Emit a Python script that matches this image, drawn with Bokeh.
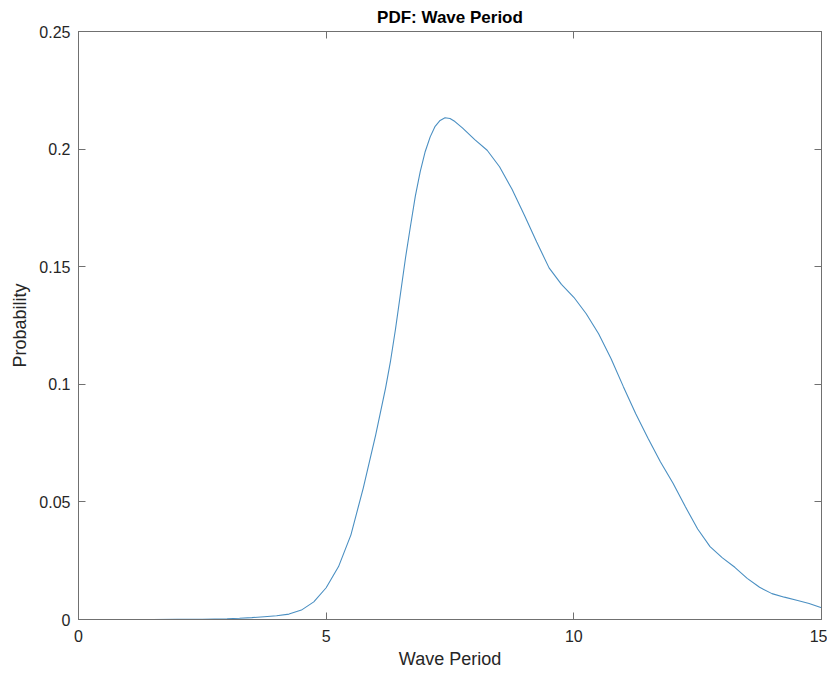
from bokeh.plotting import figure
from bokeh.models import LinearAxis, FixedTicker, Range1d, CustomJSTickFormatter
from bokeh.embed import file_html
from bokeh.resources import INLINE

# Wave period (s) and estimated probability density
period = [0.0, 0.5, 1.0, 1.5, 2.0, 2.5, 3.0, 3.25, 3.5, 3.75, 4.0, 4.25, 4.5, 4.75,
          5.0, 5.25, 5.5, 5.75, 6.0, 6.1, 6.2, 6.3, 6.4, 6.5, 6.6, 6.7, 6.8, 6.9,
          7.0, 7.1, 7.2, 7.3, 7.4, 7.5, 7.6, 7.75, 8.0, 8.25, 8.5, 8.75, 9.0, 9.25,
          9.5, 9.75, 10.0, 10.25, 10.5, 10.75, 11.0, 11.25, 11.5, 11.75, 12.0,
          12.25, 12.5, 12.75, 13.0, 13.25, 13.5, 13.75, 14.0, 14.25, 14.5, 14.75, 15.0]
probability = [0.0, 0.0, 0.0, 0.0, 0.00005, 0.0001, 0.0003, 0.0005, 0.0008, 0.0012,
               0.0016, 0.0023, 0.0040, 0.0075, 0.0135, 0.0225, 0.0360, 0.0560, 0.0785,
               0.0885, 0.0985, 0.1100, 0.1235, 0.1385, 0.1535, 0.1670, 0.1800, 0.1905,
               0.1990, 0.2052, 0.2097, 0.2122, 0.2133, 0.2130, 0.2117, 0.2090, 0.2040,
               0.1995, 0.1925, 0.1830, 0.1720, 0.1605, 0.1495, 0.1425, 0.1370, 0.1300,
               0.1215, 0.1110, 0.0990, 0.0875, 0.0770, 0.0670, 0.0580, 0.0480, 0.0385,
               0.0310, 0.0262, 0.0222, 0.0175, 0.0137, 0.0110, 0.0095, 0.0082, 0.0068,
               0.0050]

x_ticks = [0, 5, 10, 15]
y_ticks = [0, 0.05, 0.1, 0.15, 0.2, 0.25]

FONT = "Liberation Sans"
AX = "#707070"
TXT = "#262626"

p = figure(width=827, height=675, output_backend="svg", toolbar_location=None,
           x_range=Range1d(0, 15), y_range=Range1d(0, 0.25),
           min_border_left=78, min_border_right=6, min_border_top=22, min_border_bottom=56)

p.title.text = "PDF: Wave Period"
p.title.align = "center"
p.title.text_font = FONT
p.title.text_font_size = "17px"
p.title.text_font_style = "bold"
p.title.text_color = "#000000"

p.grid.visible = False
p.outline_line_color = AX
p.background_fill_color = "white"
p.border_fill_color = "white"

fmt = CustomJSTickFormatter(code="return tick.toString();")
blank = CustomJSTickFormatter(code="return '';")

def style(ax, ticks, show_labels):
    ax.ticker = FixedTicker(ticks=ticks)
    ax.axis_line_color = AX
    ax.major_tick_line_color = AX
    ax.major_tick_in = 7
    ax.major_tick_out = 0
    ax.minor_tick_line_color = None
    if show_labels:
        ax.formatter = fmt
        ax.major_label_text_font = FONT
        ax.major_label_text_font_size = "16px"
        ax.major_label_text_color = TXT
        ax.axis_label_text_font = FONT
        ax.axis_label_text_font_size = "18px"
        ax.axis_label_text_font_style = "normal"
        ax.axis_label_text_color = TXT
    else:
        ax.formatter = blank
        ax.major_label_standoff = 0

style(p.xaxis[0], x_ticks, True)
style(p.yaxis[0], y_ticks, True)
p.xaxis.axis_label = "Wave Period"
p.yaxis.axis_label = "Probability"
p.xaxis.major_label_standoff = 10
p.yaxis.major_label_standoff = 8
p.xaxis.axis_label_standoff = 4
p.yaxis.axis_label_standoff = 6

top = LinearAxis()
style(top, x_ticks, False)
p.add_layout(top, "above")
right = LinearAxis()
style(right, y_ticks, False)
p.add_layout(right, "right")

p.line(period, probability, line_color="#4a8fc2", line_width=1.1)

open("out.html", "w").write(file_html(p, INLINE))
